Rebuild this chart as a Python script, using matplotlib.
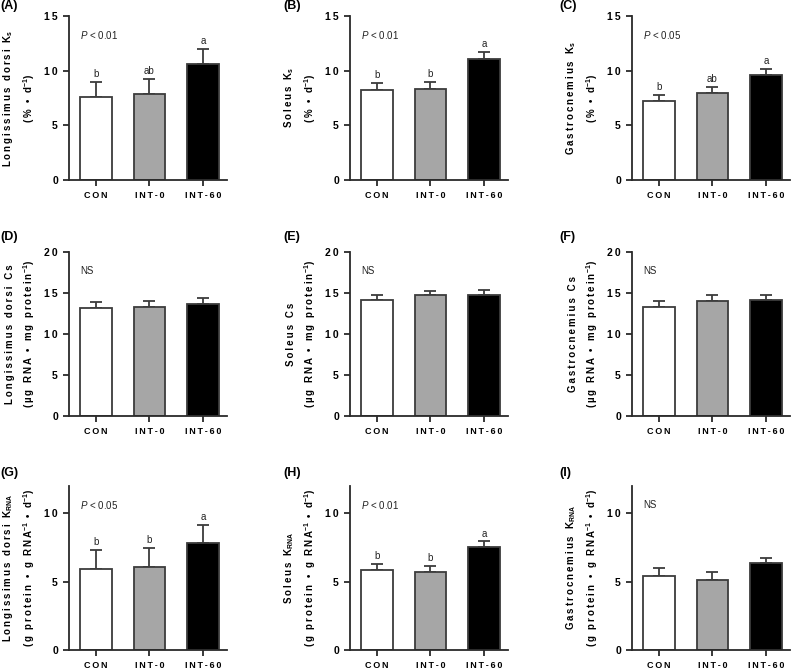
import matplotlib.pyplot as plt
import numpy as np

plt.rcParams['font.family'] = ['Liberation Sans', 'DejaVu Sans']
plt.rcParams['mathtext.fontset'] = 'custom'
plt.rcParams['mathtext.rm'] = 'Liberation Sans'
plt.rcParams['mathtext.it'] = 'Liberation Sans:italic'
plt.rcParams['mathtext.bf'] = 'Liberation Sans:bold'

groups = ["CON", "INT-0", "INT-60"]

# fractional synthesis rate Ks (% / d)
ld_ks = [7.6, 7.9, 10.65]
ld_ks_err = [1.4, 1.35, 1.35]
sol_ks = [8.25, 8.35, 11.1]
sol_ks_err = [0.65, 0.6, 0.6]
gas_ks = [7.2, 7.95, 9.6]
gas_ks_err = [0.6, 0.55, 0.55]

# RNA capacity Cs (ug RNA / mg protein)
ld_cs = [13.2, 13.3, 13.7]
ld_cs_err = [0.75, 0.75, 0.7]
sol_cs = [14.2, 14.7, 14.8]
sol_cs_err = [0.6, 0.6, 0.6]
gas_cs = [13.3, 14.0, 14.1]
gas_cs_err = [0.75, 0.7, 0.7]

# translational efficiency K_RNA
ld_krna = [5.92, 6.07, 7.82]
ld_krna_err = [1.38, 1.38, 1.33]
sol_krna = [5.85, 5.73, 7.56]
sol_krna_err = [0.44, 0.44, 0.39]
gas_krna = [5.44, 5.14, 6.34]
gas_krna_err = [0.54, 0.54, 0.41]

ks_letters = [["b", "ab", "a"], ["b", "b", "a"], ["b", "ab", "a"]]
krna_letters = [["b", "b", "a"], ["b", "b", "a"], None]
stats = [["P < 0.01", "P < 0.01", "P < 0.05"],
         ["NS", "NS", "NS"],
         ["P < 0.05", "P < 0.01", "NS"]]

muscles = ["Longissimus dorsi", "Soleus", "Gastrocnemius"]
bar_colors = ["white", "#a6a6a6", "black"]
edge = "#3c3c3c"


def sp(s, gap='\u2009'):
    return gap.join(s)


def ylab(row, muscle):
    if row == 0:
        return (sp(muscle + " K") + r"$_{\mathbf{s}}$" + "\n"
                + sp("(% • d") + r"$^{\mathbf{-1}}$" + ")")
    if row == 1:
        return (sp(muscle + " Cs") + "\n"
                + sp("(µg RNA • mg protein") + r"$^{\mathbf{-1}}$" + ")")
    return (sp(muscle + " K") + r"$_{\mathbf{RNA}}$" + "\n"
            + sp("(g protein • g RNA") + r"$^{\mathbf{-1}}$"
            + sp(" • d") + r"$^{\mathbf{-1}}$" + ")")


rows = [
    [(ld_ks, ld_ks_err), (sol_ks, sol_ks_err), (gas_ks, gas_ks_err)],
    [(ld_cs, ld_cs_err), (sol_cs, sol_cs_err), (gas_cs, gas_cs_err)],
    [(ld_krna, ld_krna_err), (sol_krna, sol_krna_err), (gas_krna, gas_krna_err)],
]
letters = [ks_letters, [None, None, None], krna_letters]
ylims = [(0, 15), (0, 20), (0, 12)]
yticks = [[0, 5, 10, 15], [0, 5, 10, 15, 20], [0, 5, 10]]

W, H = 797, 671
fig = plt.figure(figsize=(W / 100, H / 100), dpi=100)

col_left = [69, 350, 632]
row_top = [16, 252, 486]
ax_w, ax_h = 158, 164
panel_names = "ABCDEFGHI"
panel_x = [0, 283, 559]
panel_y = [6, 237, 473]

x = np.arange(len(groups))
for r in range(3):
    for c in range(3):
        vals, errs = rows[r][c]
        ax = fig.add_axes([col_left[c] / W, 1 - (row_top[r] + ax_h) / H,
                           ax_w / W, ax_h / H])
        ax.bar(x, vals, width=0.59, color=bar_colors, edgecolor=edge,
               linewidth=1.3, zorder=2)
        ax.errorbar(x, vals, yerr=[np.zeros(3), errs], fmt='none',
                    ecolor=edge, elinewidth=1.3, capsize=4, capthick=1.3,
                    zorder=1)
        ax.set_xlim(-0.5, 2.45)
        ax.set_ylim(*ylims[r])
        ax.set_yticks(yticks[r])
        ax.set_yticklabels([sp(str(t)) for t in yticks[r]],
                           fontweight='bold', fontsize=7.5)
        ax.set_xticks(x)
        ax.set_xticklabels([sp(g) for g in groups], fontweight='bold',
                           fontsize=6.5)
        for s in ['top', 'right']:
            ax.spines[s].set_visible(False)
        for s in ['left', 'bottom']:
            ax.spines[s].set_linewidth(1.3)
            ax.spines[s].set_color('#2a2a2a')
        ax.tick_params(axis='x', length=4.5, width=1.3, pad=3.5, color='#2a2a2a')
        ax.tick_params(axis='y', length=4.5, width=1.3, pad=3.5, color='#2a2a2a')
        ax.set_ylabel(ylab(r, muscles[c]), fontsize=7, fontweight='bold',
                      linespacing=1.55, labelpad=5)

        st = stats[r][c]
        if st.startswith("P"):
            st = r"$P$" + st[1:]
        ax.text(0.07, 0.885, st, transform=ax.transAxes, fontsize=7,
                ha='left', va='center', color='#222222')

        lets = letters[r][c]
        if lets:
            for i in range(3):
                ax.annotate(lets[i], (x[i], vals[i] + errs[i]),
                            xytext=(0, 2), textcoords='offset points',
                            ha='center', va='bottom', fontsize=7,
                            color='#222222')

        fig.text(panel_x[c] / W, 1 - panel_y[r] / H,
                 "(" + panel_names[r * 3 + c] + ")", fontsize=9,
                 fontweight='bold', ha='left', va='center')

fig.savefig("out.png", dpi=100)
